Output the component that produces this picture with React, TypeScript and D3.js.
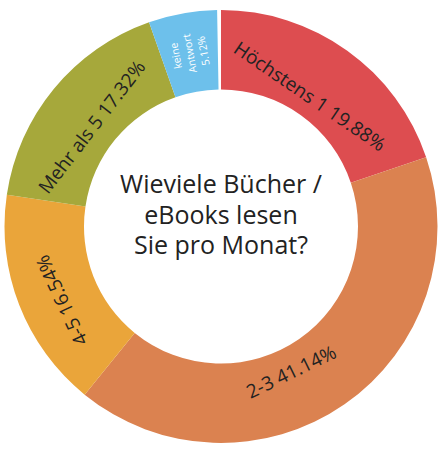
import { arc as d3_arc, pie as d3_pie } from "d3";
import type { FC } from "react";

// Daten
const categories = ["Höchstens 1", "2-3", "4-5", "Mehr als 5", "keine Antwort"];
const shares = [19.88, 41.14, 16.54, 17.32, 5.12];
const colors = ["#dd4d50", "#db8250", "#eaa53a", "#a6a83b", "#6dc0eb"];
const titleLines = ["Wieviele Bücher /", "eBooks lesen", "Sie pro Monat?"];

const W = 443;
const H = 450;
const cx = 221;
const cy = 226.5;
const rOuter = 216.5;
const rInner = 137;
const gap = 0.018; // weiße Fuge oben zwischen letztem und erstem Segment

// Feinjustierung der Beschriftung (Winkel in Grad, Radius in px)
const labelLayout: Record<string, { dAngle: number; r: number }> = {
  "Höchstens 1": { dAngle: -1.4, r: 157.5 },
  "2-3": { dAngle: 9, r: 161.5 },
  "4-5": { dAngle: -3.6, r: 175.5 },
  "Mehr als 5": { dAngle: -1.9, r: 163 },
  "keine Antwort": { dAngle: 0, r: 176 },
};

const font = "'Open Sans', 'Noto Sans', sans-serif";

interface Slice {
  label: string;
  value: number;
  color: string;
}

const App: FC = () => {
  const data: Slice[] = categories.map((label, i) => ({
    label,
    value: shares[i],
    color: colors[i],
  }));

  const pie = d3_pie<Slice>()
    .value((d) => d.value)
    .sort(null)
    .startAngle(0)
    .endAngle(2 * Math.PI - gap);

  const arc = d3_arc<any>().innerRadius(rInner).outerRadius(rOuter);
  const arcs = pie(data);

  return (
    <svg
      width={W}
      height={H}
      style={{ position: "absolute", left: 0, top: 0, background: "#fff" }}
      fontFamily={font}
    >
      <g transform={`translate(${cx},${cy})`}>
        {/* Segmente */}
        {arcs.map((a, i) => (
          <path key={i} d={arc(a) ?? ""} fill={a.data.color} />
        ))}

        {/* Beschriftungen */}
        {arcs.map((a, i) => {
          const lay = labelLayout[a.data.label];
          const mid = ((a.startAngle + a.endAngle) / 2) * (180 / Math.PI);
          const deg = mid + lay.dAngle;
          const rad = (deg * Math.PI) / 180;
          const x = Math.sin(rad) * lay.r;
          const y = -Math.cos(rad) * lay.r;
          const pct = `${a.data.value.toFixed(2)}%`;

          if (a.data.value < 8) {
            // kleines Segment: radial, mehrzeilig, weiß
            const lines = [...a.data.label.split(" "), pct];
            const lh = 14;
            return (
              <text
                key={i}
                transform={`translate(${x},${y}) rotate(${deg - 90})`}
                textAnchor="middle"
                fontSize={10.5}
                fill="#fff"
              >
                {lines.map((t, j) => (
                  <tspan
                    key={j}
                    x={0}
                    y={(j - (lines.length - 1) / 2) * lh}
                    dy="0.35em"
                  >
                    {t}
                  </tspan>
                ))}
              </text>
            );
          }

          const flip = deg > 90 && deg < 180;
          const rot = flip ? deg - 180 : deg;
          return (
            <text
              key={i}
              transform={`translate(${x},${y}) rotate(${rot})`}
              textAnchor="middle"
              dy="0.35em"
              fontSize={19}
              fill="#222"
            >
              {`${a.data.label} ${pct}`}
            </text>
          );
        })}

        {/* Titel in der Mitte */}
        <text textAnchor="middle" fontSize={25} fill="#222">
          {titleLines.map((t, j) => (
            <tspan key={j} x={0} y={-33.5 + j * 30.5}>
              {t}
            </tspan>
          ))}
        </text>
      </g>
    </svg>
  );
};

export default App;
